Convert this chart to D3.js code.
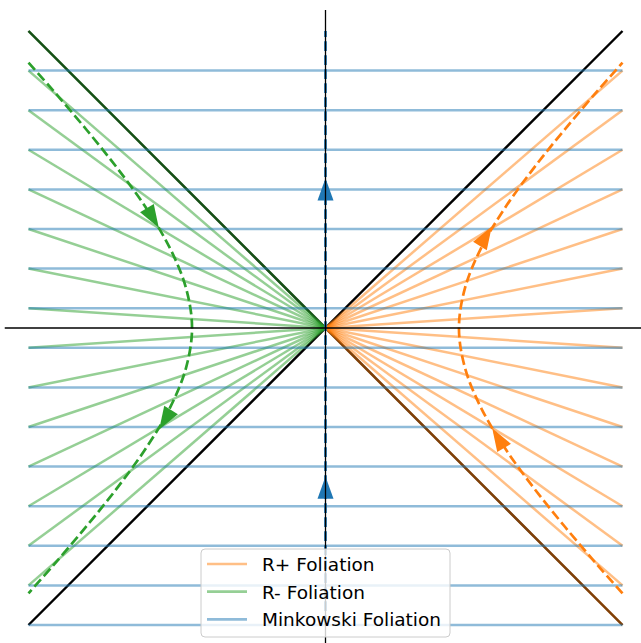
<!DOCTYPE html>
<html>
<head>
<meta charset="utf-8">
<script src="https://cdn.jsdelivr.net/npm/d3@7"></script>
<style>
  body { margin: 0; background: #fff; }
  svg { display: block; }
</style>
</head>
<body>
<div id="chart"></div>
<script>
// Minkowski time slices (t values) and edge of the drawn region
const edge = 7.5;
const minkowskiT = [-7.5, -6.5, -5.5, -4.5, -3.5, -2.5, -1.5, -0.5, 0.5, 1.5, 2.5, 3.5, 4.5, 5.5, 6.5];
// Rindler slices: rays from origin to (±edge, t)
const rPlusT = [-7.5, -6.5, -5.5, -4.5, -3.5, -2.5, -1.5, -0.5, 0.5, 1.5, 2.5, 3.5, 4.5, 5.5, 6.5];
const rMinusT = [7.5, 6.5, 5.5, 4.5, 3.5, 2.5, 1.5, 0.5, -0.5, -1.5, -2.5, -3.5, -4.5, -5.5, -6.5];
// light cone corners
const coneLines = [[[-7.5, 7.5], [7.5, -7.5]], [[-7.5, -7.5], [7.5, 7.5]]];

// accelerated observer worldline as [x, t]
const rPlusPath = [[7.5, -6.7], [6.88, -6], [6.03, -5], [5.23, -4], [4.51, -3], [3.92, -2], [3.52, -1], [3.37, 0],
  [3.52, 1], [3.92, 2], [4.51, 3], [5.23, 4], [6.03, 5], [6.88, 6], [7.5, 6.7]];
const rMinusPath = [[-7.5, 6.7], [-6.88, 6], [-6.03, 5], [-5.23, 4], [-4.51, 3], [-3.92, 2], [-3.52, 1], [-3.37, 0],
  [-3.52, -1], [-3.92, -2], [-4.51, -3], [-5.23, -4], [-6.03, -5], [-6.88, -6], [-7.5, -6.7]];
const minkPath = [[0, -7.5], [0, 7.5]];

// arrow heads: [tail, tip] in data units
const rPlusArrows = [[[4.51, -3.03], [4.21, -2.53]], [[3.90, 2.07], [4.2, 2.56]]];
const rMinusArrows = [[[-4.51, 3.03], [-4.21, 2.53]], [[-3.90, -2.07], [-4.2, -2.56]]];
const minkArrows = [[[0, -4.31], [0, -3.75]], [[0, 3.22], [0, 3.78]]];

const legendLabels = ['R+ Foliation', 'R- Foliation', 'Minkowski Foliation'];

const width = 641, height = 643;
const orange = '#ff7f0e', green = '#2ca02c', blue = '#1f77b4';

const x = d3.scaleLinear().domain([-edge, edge]).range([28.5, 622.5]);
const y = d3.scaleLinear().domain([-edge, edge]).range([625, 31]);

const svg = d3.select('#chart').append('svg')
  .attr('width', width).attr('height', height);

const line = d3.line().x(d => x(d[0])).y(d => y(d[1]));
const curve = d3.line().curve(d3.curveCatmullRom).x(d => x(d[0])).y(d => y(d[1]));

// light cone
svg.append('g').selectAll('path').data(coneLines).enter().append('path')
  .attr('d', line).attr('stroke', '#000').attr('stroke-width', 2.4).attr('fill', 'none');

// foliations
function rays(data, sx, color) {
  svg.append('g').selectAll('path').data(data).enter().append('path')
    .attr('d', t => line([[0, 0], [sx, t]]))
    .attr('stroke', color).attr('stroke-opacity', 0.5)
    .attr('stroke-width', 2.5).attr('fill', 'none');
}
rays(rPlusT, edge, orange);
rays(rMinusT, -edge, green);

svg.append('g').selectAll('path').data(minkowskiT).enter().append('path')
  .attr('d', t => line([[-edge, t], [edge, t]]))
  .attr('stroke', blue).attr('stroke-opacity', 0.5)
  .attr('stroke-width', 2.5).attr('fill', 'none');

// worldlines
[[rPlusPath, orange], [rMinusPath, green], [minkPath, blue]].forEach(([p, c]) => {
  svg.append('path').datum(p).attr('d', curve)
    .attr('stroke', c).attr('stroke-width', 2.7).attr('fill', 'none')
    .attr('stroke-dasharray', '9.8,4.2');
});

// arrow heads
function arrows(data, color) {
  svg.append('g').selectAll('path').data(data).enter().append('path')
    .attr('d', function (d) {
      const x0 = x(d[0][0]), y0 = y(d[0][1]);
      const x1 = x(d[1][0]), y1 = y(d[1][1]);
      const len = Math.hypot(x1 - x0, y1 - y0);
      const ux = (x1 - x0) / len, uy = (y1 - y0) / len;
      const hw = 8;
      return 'M' + x1 + ',' + y1 +
        'L' + (x0 - uy * hw) + ',' + (y0 + ux * hw) +
        'L' + (x0 + uy * hw) + ',' + (y0 - ux * hw) + 'Z';
    })
    .attr('fill', color);
}
arrows(rPlusArrows, orange);
arrows(rMinusArrows, green);
arrows(minkArrows, blue);

// axis lines through origin
svg.append('line').attr('x1', x(-8.1)).attr('x2', width).attr('y1', y(0)).attr('y2', y(0))
  .attr('stroke', '#000').attr('stroke-width', 1.3);
svg.append('line').attr('x1', x(0)).attr('x2', x(0)).attr('y1', y(8.03)).attr('y2', height)
  .attr('stroke', '#000').attr('stroke-width', 1.3);

// legend
const legend = svg.append('g').attr('transform', 'translate(201,549)');
legend.append('rect').attr('width', 249).attr('height', 88).attr('rx', 4)
  .attr('fill', '#fff').attr('fill-opacity', 0.8)
  .attr('stroke', '#cccccc').attr('stroke-width', 1);
const items = legend.selectAll('g.item').data(legendLabels).enter().append('g')
  .attr('class', 'item')
  .attr('transform', (d, i) => 'translate(0,' + (15 + i * 27.7) + ')');
items.append('line').attr('x1', 6).attr('x2', 46)
  .attr('stroke', (d, i) => [orange, green, blue][i]).attr('stroke-opacity', 0.5)
  .attr('stroke-width', 2.7);
items.append('text').attr('x', 61).attr('y', 7)
  .attr('font-family', 'DejaVu Sans').attr('font-size', 18.5).attr('fill', '#000')
  .text(d => d);
</script>
</body>
</html>
